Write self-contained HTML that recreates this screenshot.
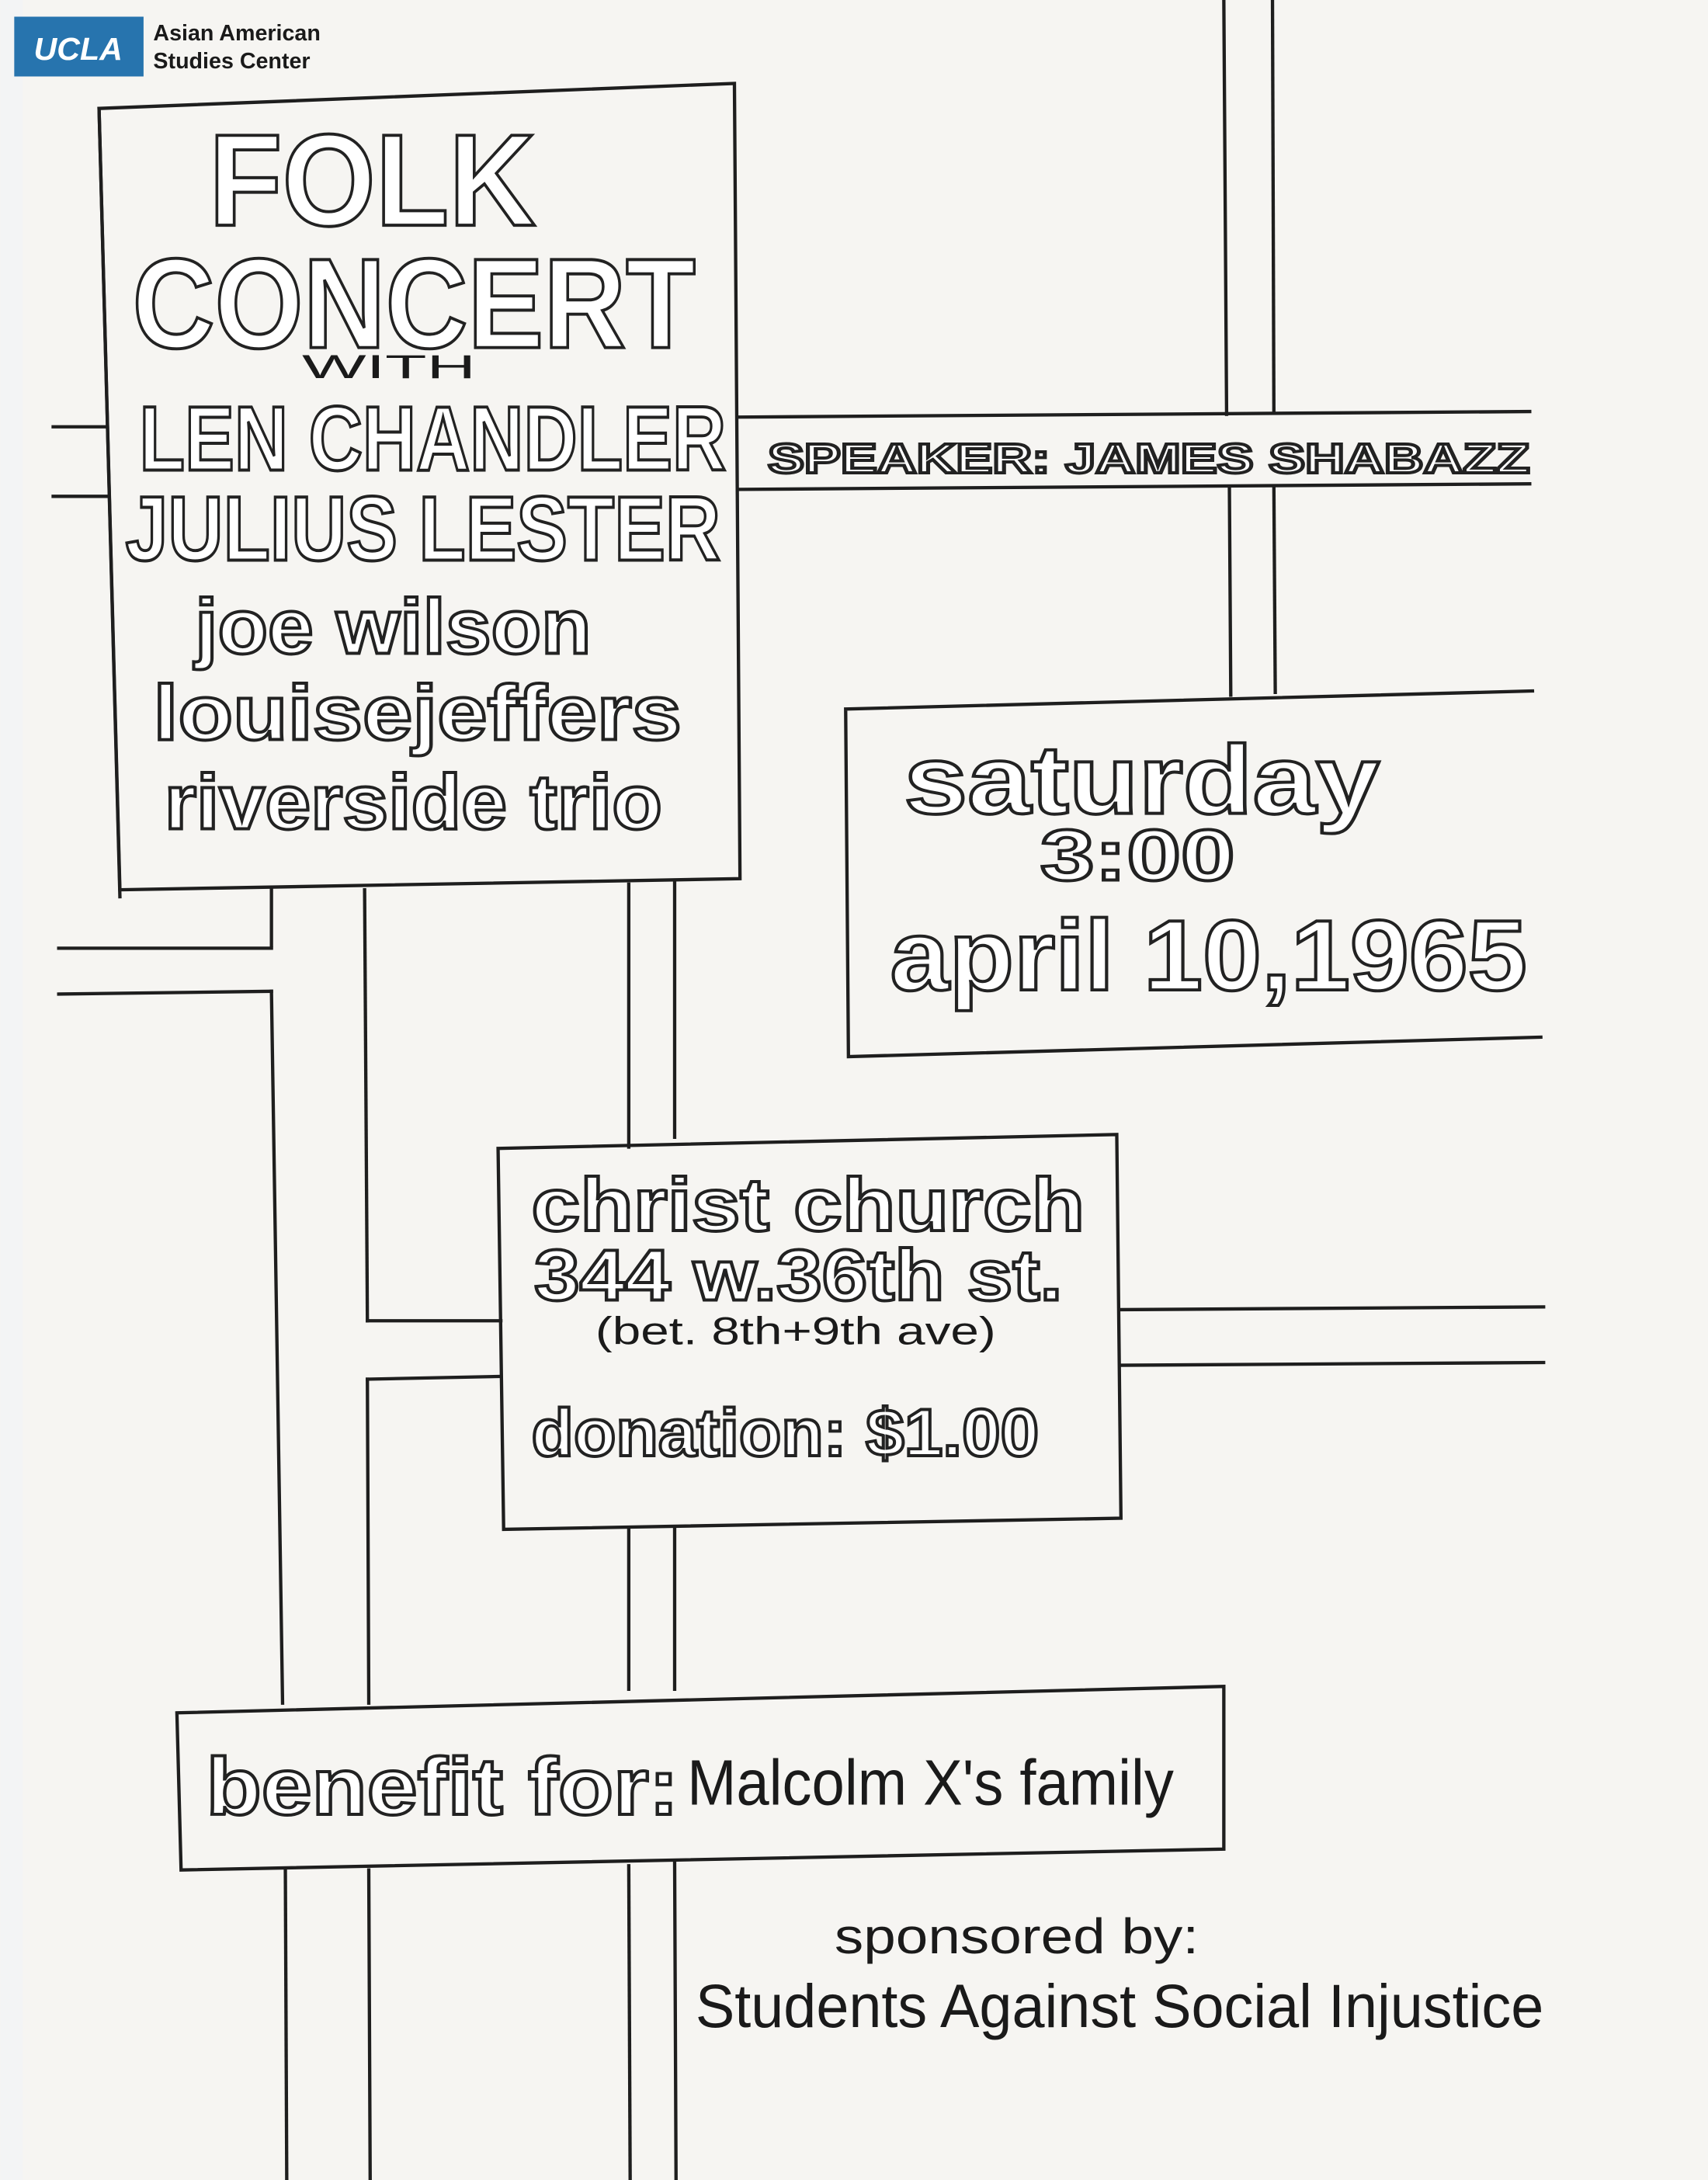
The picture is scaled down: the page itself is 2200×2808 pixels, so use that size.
<!DOCTYPE html>
<html><head><meta charset="utf-8"><style>
html,body{margin:0;padding:0;background:#f6f5f2;}
svg{display:block;}
.o{fill:#fff;stroke:#222;stroke-width:2.2;font-family:"Liberation Sans",sans-serif;font-weight:bold;paint-order:normal;}
.t{fill:#1a1a1a;font-family:"Liberation Sans",sans-serif;}
</style></head><body>
<svg width="2200" height="2808" viewBox="0 0 1228 1568" xmlns="http://www.w3.org/2000/svg">
<rect x="0" y="0" width="1228" height="1568" fill="#f6f5f2"/>
<rect x="0" y="0" width="16" height="1568" fill="#f3f4f5"/>
<g stroke="#1e1e1e" stroke-width="2.4" fill="none" stroke-linecap="square">
<!-- main box -->
<path d="M71,78 L528,60 L532,632 L86,640 Z"/>
<path d="M71,78 L86,645"/>
<line x1="38" y1="307" x2="75" y2="307"/>
<line x1="38" y1="357" x2="77" y2="357"/>
<!-- top right verticals -->
<line x1="880" y1="0" x2="882" y2="298"/>
<line x1="915" y1="0" x2="916" y2="296"/>
<line x1="884" y1="350" x2="885" y2="500"/>
<line x1="916" y1="350" x2="917" y2="498"/>
<line x1="532" y1="300" x2="1100" y2="296"/>
<line x1="532" y1="352" x2="1100" y2="348"/>
<!-- date box -->
<path d="M608,510 L1102,497 M608,510 L610,760 L1108,746"/>
<!-- left lower lines -->
<line x1="195" y1="640" x2="195" y2="680"/>
<line x1="42" y1="682" x2="195" y2="682"/>
<line x1="42" y1="715" x2="195" y2="713"/>
<line x1="195" y1="713" x2="203" y2="1225"/>
<line x1="205" y1="1345" x2="206" y2="1568"/>
<line x1="262" y1="640" x2="264" y2="950"/>
<line x1="264" y1="950" x2="360" y2="950"/>
<line x1="264" y1="992" x2="360" y2="990"/>
<line x1="264" y1="992" x2="265" y2="1225"/>
<line x1="265" y1="1345" x2="266" y2="1568"/>
<line x1="452" y1="636" x2="452" y2="825"/>
<line x1="485" y1="634" x2="485" y2="818"/>
<line x1="452" y1="1100" x2="452" y2="1215"/>
<line x1="485" y1="1098" x2="485" y2="1215"/>
<line x1="452" y1="1342" x2="453" y2="1568"/>
<line x1="485" y1="1340" x2="486" y2="1568"/>
<!-- church box -->
<path d="M358,826 L803,816 L806,1092 L362,1100 Z"/>
<line x1="806" y1="942" x2="1110" y2="940"/>
<line x1="806" y1="982" x2="1110" y2="980"/>
<!-- benefit box -->
<path d="M127,1232 L880,1213 L880,1330 L130,1345 Z"/>
</g>
<!-- logo -->
<rect x="10" y="12" width="93" height="43" fill="#2774AE"/>
<text x="56" y="43" text-anchor="middle" fill="#fff" font-family="Liberation Sans,sans-serif" font-weight="bold" font-style="italic" font-size="23">UCLA</text>
<text x="110" y="29" class="t" font-weight="bold" font-size="16">Asian American</text>
<text x="110" y="49" class="t" font-weight="bold" font-size="16">Studies Center</text>
<!-- main text -->
<text x="150" y="162" class="o" font-size="94" font-family="Liberation Serif,serif" textLength="235" lengthAdjust="spacingAndGlyphs">FOLK</text>
<text x="95" y="250" class="o" font-size="92" font-family="Liberation Serif,serif" textLength="405" lengthAdjust="spacingAndGlyphs">CONCERT</text>
<text x="217" y="272" class="t" font-size="24" font-family="Liberation Serif,serif" textLength="125" lengthAdjust="spacingAndGlyphs">WITH</text>
<text x="100" y="338" class="o" font-size="66" textLength="422" lengthAdjust="spacingAndGlyphs">LEN CHANDLER</text>
<text x="90" y="403" class="o" font-size="66" textLength="428" lengthAdjust="spacingAndGlyphs">JULIUS LESTER</text>
<text x="140" y="470" class="o" font-size="56" textLength="285" lengthAdjust="spacingAndGlyphs">joe wilson</text>
<text x="110" y="532" class="o" font-size="56" textLength="380" lengthAdjust="spacingAndGlyphs">louisejeffers</text>
<text x="118" y="596" class="o" font-size="56" textLength="358" lengthAdjust="spacingAndGlyphs">riverside trio</text>
<text x="552" y="340" class="o" font-size="30" textLength="548" lengthAdjust="spacingAndGlyphs">SPEAKER: JAMES  SHABAZZ</text>
<text x="650" y="585" class="o" font-size="70" textLength="342" lengthAdjust="spacingAndGlyphs">saturday</text>
<text x="748" y="633" class="o" font-size="52" font-weight="normal" textLength="140" lengthAdjust="spacingAndGlyphs">3:00</text>
<text x="640" y="712" class="o" font-size="72" textLength="458" lengthAdjust="spacingAndGlyphs">april 10,1965</text>
<text x="382" y="885" class="o" font-size="54" textLength="398" lengthAdjust="spacingAndGlyphs">christ church</text>
<text x="384" y="935" class="o" font-size="52" textLength="380" lengthAdjust="spacingAndGlyphs">344 w.36th st.</text>
<text x="428" y="967" class="t" font-size="28" textLength="288" lengthAdjust="spacingAndGlyphs">(bet. 8th+9th ave)</text>
<text x="382" y="1047" class="o" font-size="48" textLength="365" lengthAdjust="spacingAndGlyphs">donation: $1.00</text>
<text x="148" y="1305" class="o" font-size="58" textLength="340" lengthAdjust="spacingAndGlyphs">benefit for:</text>
<text x="494" y="1298" class="t" font-size="46" textLength="350" lengthAdjust="spacingAndGlyphs">Malcolm X's family</text>
<text x="600" y="1405" class="t" font-size="36" textLength="262" lengthAdjust="spacingAndGlyphs">sponsored  by:</text>
<text x="500" y="1458" class="t" font-size="44" textLength="610" lengthAdjust="spacingAndGlyphs">Students Against Social  Injustice</text>
</svg>
</body></html>
